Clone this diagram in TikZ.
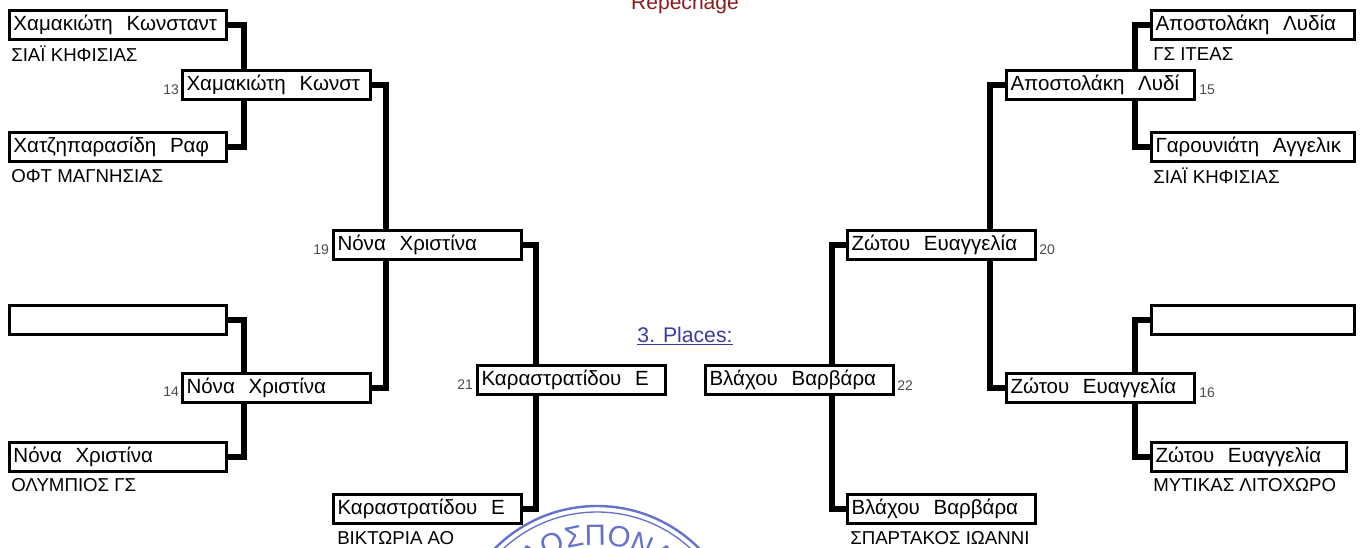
\documentclass[tikz,border=0pt]{standalone}
\usepackage{fontspec}
\setmainfont{Liberation Sans}
\usetikzlibrary{decorations.text}
\definecolor{stampblue}{HTML}{6472CC}
\definecolor{linkblue}{HTML}{3A3AA0}
\definecolor{repred}{HTML}{8B1A1A}
\tikzset{
  playerbox/.style={draw, line width=2.25pt, fill=white, anchor=north west, inner xsep=3pt, inner ysep=0pt,
    text height=12pt, text depth=4.5pt, minimum height=21.75pt, align=left, font=\fontsize{15.4}{17}\selectfont},
  longbox/.style={playerbox, text width=156.75pt},
  rightbox/.style={playerbox, text width=146.25pt},
  shortbox/.style={playerbox, text width=140.25pt},
  midbox/.style={playerbox, text width=135pt},
  club/.style={anchor=west, inner sep=0pt, font=\fontsize{14}{16}\selectfont},
  seednum/.style={anchor=west, inner sep=0pt, text=black!70, font=\fontsize{10.5}{12}\selectfont},
  bracketlink/.style={line width=4.2pt, line cap=butt, line join=miter}
}
\begin{document}
\begin{tikzpicture}[x=0.75pt, y=-0.75pt]
\useasboundingbox (0,0) rectangle (1366,547);
\begin{scope}
  \clip (0,0) rectangle (1366,547);
  \draw[stampblue, line width=1.8pt] (597,650) circle (144);
  \draw[stampblue, line width=1pt] (597,650) circle (138);
  \path[decorate, decoration={text along path, text align=center,
      text={|\fontsize{22}{22}\selectfont\color{stampblue}|ΛΟΣΠΟΝΔ}}]
    (492,650) arc (-180:0:105);
\end{scope}
\foreach \nm/\x/\y/\sty/\txt in {
  a1/8/9/longbox/Χαμακιώτη\ \ Κωνσταντ,
  a2/8/131/longbox/Χατζηπαρασίδη\ \ Ραφ,
  a3/8/304/longbox/{},
  a4/8/441/longbox/Νόνα\ \ Χριστίνα,
  b13/181/69/midbox/Χαμακιώτη\ \ Κωνστ,
  b14/181/372/midbox/Νόνα\ \ Χριστίνα,
  c19/332/229/midbox/Νόνα\ \ Χριστίνα,
  d21/476/364/midbox/Καραστρατίδου\ \ Ε,
  d0/332/493/midbox/Καραστρατίδου\ \ Ε,
  e1/1150/9/rightbox/Αποστολάκη\ \ Λυδία,
  e2/1150/131/rightbox/Γαρουνιάτη\ \ Αγγελικ,
  e3/1150/304/rightbox/{},
  e4/1150/441/shortbox/Ζώτου\ \ Ευαγγελία,
  f15/1005/69/midbox/Αποστολάκη\ \ Λυδί,
  f16/1005/372/midbox/Ζώτου\ \ Ευαγγελία,
  g20/846/229/midbox/Ζώτου\ \ Ευαγγελία,
  h22/704/364/midbox/Βλάχου\ \ Βαρβάρα,
  h0/846/493/midbox/Βλάχου\ \ Βαρβάρα}
  \node[\sty] (\nm) at (\x,\y) {\txt};
\foreach \nm/\x/\y/\txt in {
  ca1/11/54/ΣΙΑΪ ΚΗΦΙΣΙΑΣ, ca2/11/176/ΟΦΤ ΜΑΓΝΗΣΙΑΣ, ca4/11/485/ΟΛΥΜΠΙΟΣ ΓΣ,
  cd0/337/538/ΒΙΚΤΩΡΙΑ ΑΟ, ce1/1153/54/ΓΣ ΙΤΕΑΣ, ce2/1153/176/ΣΙΑΪ ΚΗΦΙΣΙΑΣ,
  ce4/1153/485/ΜΥΤΙΚΑΣ ΛΙΤΟΧΩΡΟ, ch0/850/538/ΣΠΑΡΤΑΚΟΣ ΙΩΑΝΝΙ}
  \node[club] (\nm) at (\x,\y) {\txt};
\foreach \nm/\x/\y/\txt in {
  n13/163/90/13, n14/163/392/14, n19/313/250/19, n21/457/385/21,
  n15/1199/90/15, n16/1199/393/16, n20/1039/250/20, n22/897/386/22}
  \node[seednum] (\nm) at (\x,\y) {\txt};
\foreach \from/\to/\vx/\side/\edge in {
  a1/b13/244/north/east, a2/b13/244/south/east, a3/b14/244/north/east, a4/b14/244/south/east,
  b13/c19/386/north/east, b14/c19/386/south/east, c19/d21/536/north/east, d0/d21/536/south/east,
  e1/f15/1135/north/west, e2/f15/1135/south/west, e3/f16/1135/north/west, e4/f16/1135/south/west,
  f15/g20/990/north/west, f16/g20/990/south/west, g20/h22/832/north/west, h0/h22/832/south/west}
{
  \coordinate (end\from) at (\vx,0 |- \to.\side);
  \draw[bracketlink] (\from.\edge) -| (end\from);
}
\node[text=repred, font=\fontsize{15.8}{18}\selectfont] (repechage) at (685,4) {Repechage};
\node[text=linkblue, font=\fontsize{15.9}{18}\selectfont, inner sep=0pt] (places) at (685,336) {\underline{3. Places:}};
\end{tikzpicture}
\end{document}
